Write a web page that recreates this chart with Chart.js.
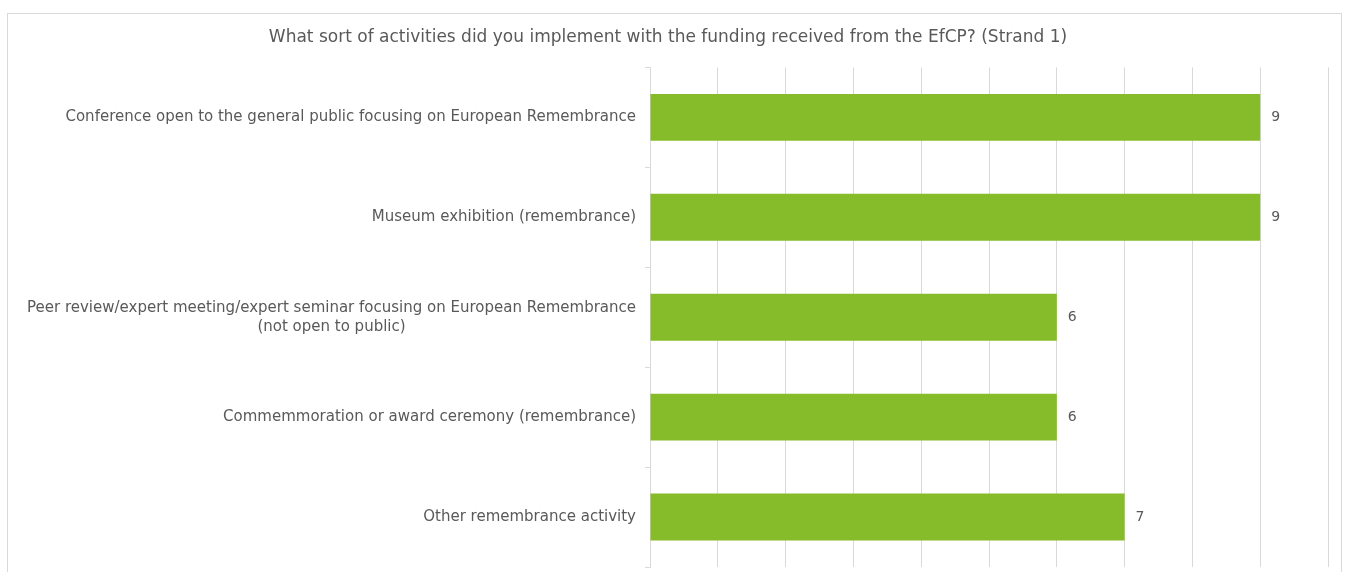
<!DOCTYPE html>
<html>
<head>
<meta charset="utf-8">
<script src="https://cdn.jsdelivr.net/npm/chart.js@4"></script>
<style>
    body { margin: 0; background: #fff; }
    #box {
        position: absolute; left: 7px; top: 13px;
        width: 1335px; height: 570px;
        border: 1px solid #d9d9d9; box-sizing: border-box;
    }
    #wrap { position: absolute; left: 0; top: 0; width: 1333px; height: 562px; }
</style>
</head>
<body>
<div id="box"><div id="wrap"><canvas id="chart"></canvas></div></div>
<script>
// categories, top to bottom
const categories = [
    ["Conference open to the general public focusing on European Remembrance"],
    ["Museum exhibition (remembrance)"],
    ["Peer review/expert meeting/expert seminar focusing on European Remembrance", "(not open to public)"],
    ["Commemmoration or award ceremony (remembrance)"],
    ["Other remembrance activity"]
];
const counts = [9, 9, 6, 6, 7];
const axisMax = 10;
const chartTitle = "What sort of activities did you implement with the funding received from the EfCP? (Strand 1)";

const TEXT = '#595959';
const FONT = '"DejaVu Sans", Verdana, sans-serif';

// y labels drawn by hand so the wrapped label can be centred like in Excel
const categoryLabels = {
    id: 'categoryLabels',
    afterDraw(chart) {
        const ctx = chart.ctx;
        const yScale = chart.scales.y;
        const right = chart.chartArea.left - 14;
        ctx.save();
        ctx.font = '15px ' + FONT;
        ctx.fillStyle = TEXT;
        ctx.textBaseline = 'middle';
        categories.forEach((lines, i) => {
            const y = yScale.getPixelForValue(i);
            const lh = 19;
            const y0 = y - (lines.length - 1) * lh / 2;
            if (lines.length === 1) {
                ctx.textAlign = 'right';
                ctx.fillText(lines[0], right, y0);
            } else {
                let widest = 0;
                for (const l of lines) widest = Math.max(widest, ctx.measureText(l).width);
                ctx.textAlign = 'center';
                lines.forEach((l, k) => ctx.fillText(l, right - widest / 2, y0 + k * lh));
            }
        });
        ctx.restore();
    }
};

// value labels at the end of each bar
const valueLabels = {
    id: 'valueLabels',
    afterDatasetsDraw(chart) {
        const ctx = chart.ctx;
        const meta = chart.getDatasetMeta(0);
        ctx.save();
        ctx.font = '14px ' + FONT;
        ctx.fillStyle = TEXT;
        ctx.textAlign = 'left';
        ctx.textBaseline = 'middle';
        meta.data.forEach((bar, i) => {
            ctx.fillText(String(counts[i]), bar.x + 11, bar.y);
        });
        ctx.restore();
    }
};

new Chart(document.getElementById('chart').getContext('2d'), {
    type: 'bar',
    data: {
        labels: categories.map(c => c.join(' ')),
        datasets: [{
            data: counts,
            backgroundColor: '#86bc29',
            barPercentage: 0.47,
            categoryPercentage: 1
        }]
    },
    options: {
        indexAxis: 'y',
        responsive: true,
        maintainAspectRatio: false,
        animation: false,
        layout: { padding: { left: 0, right: 13, top: 0, bottom: 9 } },
        plugins: {
            legend: { display: false },
            tooltip: { enabled: false },
            title: {
                display: true,
                text: chartTitle,
                color: TEXT,
                font: { family: FONT, size: 17, weight: 'normal' },
                padding: { top: 13, bottom: 20 }
            }
        },
        scales: {
            x: {
                min: 0,
                max: axisMax,
                ticks: { display: false, stepSize: 1 },
                grid: { color: '#d9d9d9', drawTicks: false },
                border: { display: false }
            },
            y: {
                ticks: { display: false },
                grid: { drawOnChartArea: false, tickLength: 5, color: '#d9d9d9' },
                border: { color: '#d9d9d9' },
                afterFit(scale) { scale.width = 642; }
            }
        }
    },
    plugins: [categoryLabels, valueLabels]
});
</script>
</body>
</html>
